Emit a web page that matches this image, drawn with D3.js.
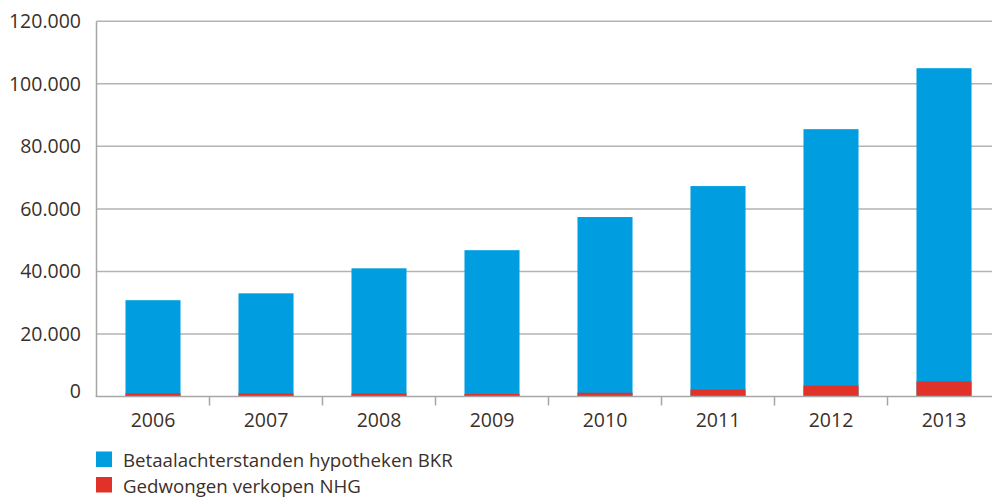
<!DOCTYPE html>
<html>
<head>
<meta charset="utf-8">
<script src="https://cdn.jsdelivr.net/npm/d3@7"></script>
<style>
  body { margin: 0; background: #fff; }
  text { font-family: "Open Sans", sans-serif; fill: #3b3029; }
</style>
</head>
<body>
<div id="chart"></div>
<script>
var years = ["2006", "2007", "2008", "2009", "2010", "2011", "2012", "2013"];
var bkr = [30800, 33000, 41000, 46800, 57400, 67300, 85500, 105000];
var nhg = [1000, 1000, 1000, 800, 1200, 2200, 3500, 4800];
var yTicks = [0, 20000, 40000, 60000, 80000, 100000, 120000];
var seriesNames = ["Betaalachterstanden hypotheken BKR", "Gedwongen verkopen NHG"];
var colors = ["#009ee0", "#e1322a"];

var width = 992, height = 500;
var plotLeft = 96.5, plotRight = 1000.5, plotTop = 21.3, plotBottom = 396.5;

var svg = d3.select("#chart").append("svg")
    .attr("width", width)
    .attr("height", height);

var x = d3.scaleBand()
    .domain(years)
    .range([plotLeft, plotRight])
    .paddingInner(0.513)
    .paddingOuter(0.2565);

var y = d3.scaleLinear()
    .domain([0, 120000])
    .range([plotBottom, plotTop]);

var fmt = function(v){ return v === 0 ? "0" : d3.format(",")(v).replace(/,/g, "."); };

// gridlines
svg.append("g")
    .selectAll("line")
    .data(yTicks.filter(function(d){ return d > 0; }))
    .enter().append("line")
    .attr("x1", plotLeft).attr("x2", width)
    .attr("y1", function(d){ return y(d); })
    .attr("y2", function(d){ return y(d); })
    .attr("stroke", "#b3b3b3")
    .attr("stroke-width", 1.5);

// y labels (the 0 sits a little above the axis)
svg.append("g")
    .selectAll("text")
    .data(yTicks)
    .enter().append("text")
    .attr("x", 81)
    .attr("y", function(d){ return y(d) + (d === 0 ? 1 : 7); })
    .attr("text-anchor", "end")
    .style("font-size", "19.5px")
    .text(fmt);

// bars
var bars = svg.append("g");
bars.selectAll(".bkr")
    .data(years).enter().append("rect")
    .attr("class", "bkr")
    .attr("x", function(d){ return x(d); })
    .attr("width", x.bandwidth())
    .attr("y", function(d, i){ return y(bkr[i]); })
    .attr("height", function(d, i){ return plotBottom - y(bkr[i]); })
    .attr("fill", colors[0]);
bars.selectAll(".nhg")
    .data(years).enter().append("rect")
    .attr("class", "nhg")
    .attr("x", function(d){ return x(d); })
    .attr("width", x.bandwidth())
    .attr("y", function(d, i){ return y(nhg[i]); })
    .attr("height", function(d, i){ return plotBottom - y(nhg[i]); })
    .attr("fill", colors[1]);

// axis lines
svg.append("line")
    .attr("x1", plotLeft).attr("x2", plotLeft)
    .attr("y1", plotTop).attr("y2", plotBottom + 0.5)
    .attr("stroke", "#a6a6a6").attr("stroke-width", 1.5);
svg.append("line")
    .attr("x1", plotLeft - 0.75).attr("x2", width)
    .attr("y1", plotBottom).attr("y2", plotBottom)
    .attr("stroke", "#a6a6a6").attr("stroke-width", 1.5);

// x ticks between bands
svg.append("g")
    .selectAll("line")
    .data(years.slice(1))
    .enter().append("line")
    .attr("x1", function(d){ return x(d) - x.step() * x.paddingInner() / 2; })
    .attr("x2", function(d){ return x(d) - x.step() * x.paddingInner() / 2; })
    .attr("y1", plotBottom).attr("y2", plotBottom + 9)
    .attr("stroke", "#a6a6a6").attr("stroke-width", 1.5);

// x labels
svg.append("g")
    .selectAll("text")
    .data(years)
    .enter().append("text")
    .attr("x", function(d){ return x(d) + x.bandwidth() / 2; })
    .attr("y", 427)
    .attr("text-anchor", "middle")
    .style("font-size", "19.5px")
    .text(function(d){ return d; });

// legend
var legend = svg.append("g")
    .selectAll("g")
    .data(seriesNames)
    .enter().append("g")
    .attr("transform", function(d, i){ return "translate(96," + (451.5 + i * 25.5) + ")"; });
legend.append("rect")
    .attr("width", 16).attr("height", 15.5)
    .attr("fill", function(d, i){ return colors[i]; });
legend.append("text")
    .attr("x", 27)
    .attr("y", 15.5)
    .style("font-size", "18.7px")
    .text(function(d){ return d; });
</script>
</body>
</html>
